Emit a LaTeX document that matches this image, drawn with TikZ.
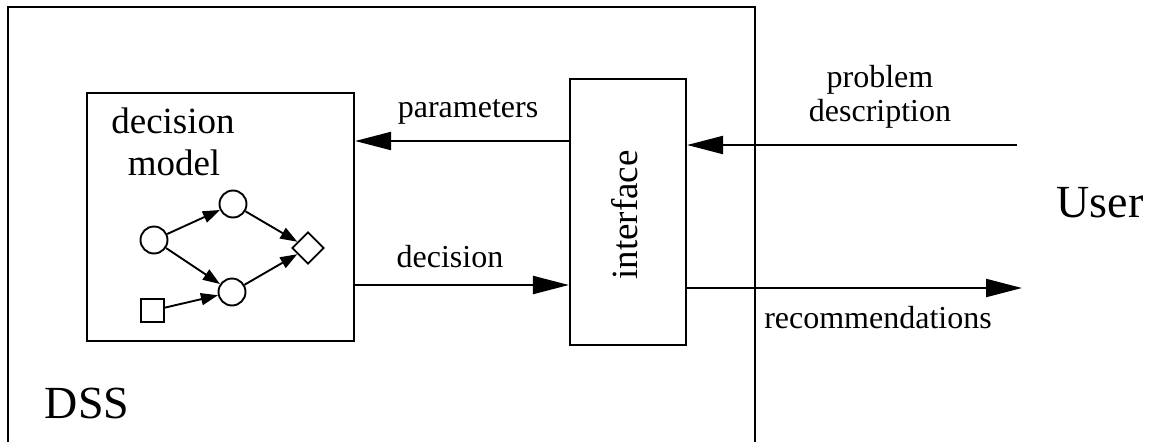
\documentclass[tikz,border=0pt]{standalone}
\usepackage{fontspec}
\setmainfont{Liberation Serif}
\usetikzlibrary{arrows.meta,shapes.geometric}
\begin{document}
\begin{tikzpicture}[x=1pt,y=-1pt,
  box/.style={draw,line width=2.2pt,inner sep=0pt},
  big/.style={-{Triangle[length=36pt,width=18pt]},line width=2.2pt},
  small/.style={-{Triangle[length=17pt,width=12pt]},line width=1.9pt},
  gnode/.style={draw,line width=1.9pt,circle,minimum size=27pt,inner sep=0pt},
  lbl/.style={anchor=base,inner sep=0pt,font=\fontsize{32}{38}\selectfont},
]
\useasboundingbox (0,0) rectangle (1154,442);
% DSS outer box (open at the bottom)
\draw[line width=2.4pt] (8,442) -- (8,7) -- (755,7) -- (755,442);
% boxes
\node[box,minimum width=267pt,minimum height=248pt] (dm) at (220.5,217) {};
\node[box,minimum width=116pt,minimum height=266pt] (iface) at (628,212) {};
% texts
\node[anchor=base,inner sep=0pt,font=\fontsize{37}{44}\selectfont] (t1) at (173,133) {decision};
\node[anchor=base,inner sep=0pt,font=\fontsize{37}{44}\selectfont] (t2) at (174,175) {model};
\node[anchor=base,inner sep=0pt,rotate=90,font=\fontsize{37}{44}\selectfont] (t3) at (637,215) {interface};
\node[anchor=base,inner sep=0pt,font=\fontsize{46}{54}\selectfont] (dss) at (87,418) {DSS};
\node[anchor=base,inner sep=0pt,font=\fontsize{46}{54}\selectfont] (user) at (1100,217) {User};
\node[lbl] (lp) at (468,117) {parameters};
\node[lbl] (ld) at (450,267) {decision};
\node[lbl] (lpr1) at (880,87) {problem};
\node[lbl] (lpr2) at (880,121) {description};
\node[lbl] (lr) at (878,328) {recommendations};
% graph inside decision model
\node[gnode] (c1) at (154,240) {};
\node[gnode] (c2) at (233,204) {};
\node[gnode] (c3) at (232,292) {};
\node[draw,line width=1.9pt,diamond,minimum size=32pt,inner sep=0pt] (dia) at (308,248) {};
\node[draw,line width=1.9pt,minimum size=23pt,inner sep=0pt] (sq) at (152.5,310.5) {};
\draw[small] (c1) -- (c2);
\draw[small] (c1) -- (c3);
\draw[small] (c2) -- (dia);
\draw[small] (c3) -- (dia);
\draw[small] (sq) -- (c3);
% connectors
\coordinate (u1) at (1017,145);
\coordinate (u2) at (1022,288);
\draw[big] (iface.west |- 0,141) -- (dm.east |- 0,141);
\draw[big] (dm.east |- 0,285) -- (iface.west |- 0,285);
\draw[big] (u1) -- (iface.east |- u1);
\draw[big] (iface.east |- u2) -- (u2);
\end{tikzpicture}
\end{document}
